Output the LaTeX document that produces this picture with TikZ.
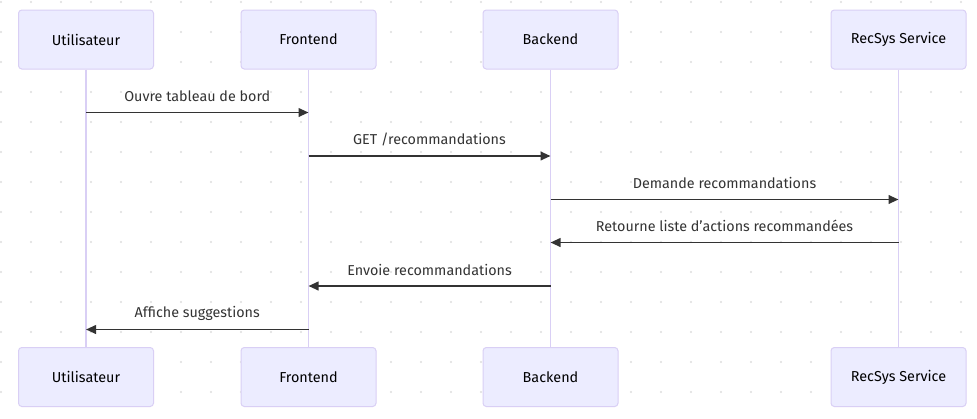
\documentclass[tikz,border=0pt]{standalone}
\usepackage{fontspec}
\setmainfont{Fira Sans}
\usetikzlibrary{arrows.meta}
\definecolor{actfill}{HTML}{ECECFF}
\definecolor{actline}{HTML}{D9CFF5}
\definecolor{msgcol}{HTML}{333333}
\definecolor{dotcol}{HTML}{DDDDDD}
\tikzset{
  actor/.style={draw=actline, fill=actfill, line width=0.75pt, rounded corners=2.5pt,
    minimum width=101.25pt, minimum height=44.25pt, inner sep=0pt,
    font=\fontsize{10.8}{12}\selectfont, text=black},
  lifeline/.style={draw=actline, line width=1.2pt},
  msg/.style={draw=msgcol, line width=1.35pt, -{Triangle[length=7.5pt,width=6.5pt]}},
  msglabel/.style={font=\fontsize{10.75}{12}\selectfont, text=msgcol, inner sep=0pt, anchor=center, yshift=12.2pt},
}
\begin{document}
\begin{tikzpicture}[x=0.75pt,y=-0.75pt]
\useasboundingbox (0,0) rectangle (977,418);
\fill[white] (0,0) rectangle (977,418);
\foreach \i in {0,...,32}{
  \foreach \j in {0,...,13}{
    \fill[dotcol] (1+30*\i, 2+30*\j) circle (1.1);
  }
}
% actors top
\node[actor] (u1) at (86,39.5) {Utilisateur};
\node[actor] (f1) at (308.5,39.5) {Frontend};
\node[actor] (b1) at (550.5,39.5) {Backend};
\node[actor] (r1) at (898.5,39.5) {RecSys Service};
% actors bottom
\node[actor] (u2) at (86,377) {Utilisateur};
\node[actor] (f2) at (308.5,377) {Frontend};
\node[actor] (b2) at (550.5,377) {Backend};
\node[actor] (r2) at (898.5,377) {RecSys Service};
% lifelines
\draw[lifeline] (u1.south) -- (u2.north);
\draw[lifeline] (f1.south) -- (f2.north);
\draw[lifeline] (b1.south) -- (b2.north);
\draw[lifeline] (r1.south) -- (r2.north);
% message anchors
\coordinate (m1a) at (u1.south |- 0,112.5);
\coordinate (m1b) at (f1.south |- 0,112.5);
\coordinate (m2a) at (f1.south |- 0,156);
\coordinate (m2b) at (b1.south |- 0,156);
\coordinate (m3a) at (b1.south |- 0,199.5);
\coordinate (m3b) at (r1.south |- 0,199.5);
\coordinate (m4a) at (r1.south |- 0,242.5);
\coordinate (m4b) at (b1.south |- 0,242.5);
\coordinate (m5a) at (b1.south |- 0,286);
\coordinate (m5b) at (f1.south |- 0,286);
\coordinate (m6a) at (f1.south |- 0,329.5);
\coordinate (m6b) at (u1.south |- 0,329.5);
\draw[msg] (m1a) -- node[msglabel] (l1) {Ouvre tableau de bord} (m1b);
\draw[msg] (m2a) -- node[msglabel] (l2) {GET /recommandations} (m2b);
\draw[msg] (m3a) -- node[msglabel] (l3) {Demande recommandations} (m3b);
\draw[msg] (m4a) -- node[msglabel] (l4) {Retourne liste d’actions recommandées} (m4b);
\draw[msg] (m5a) -- node[msglabel] (l5) {Envoie recommandations} (m5b);
\draw[msg] (m6a) -- node[msglabel] (l6) {Affiche suggestions} (m6b);
\end{tikzpicture}
\end{document}
